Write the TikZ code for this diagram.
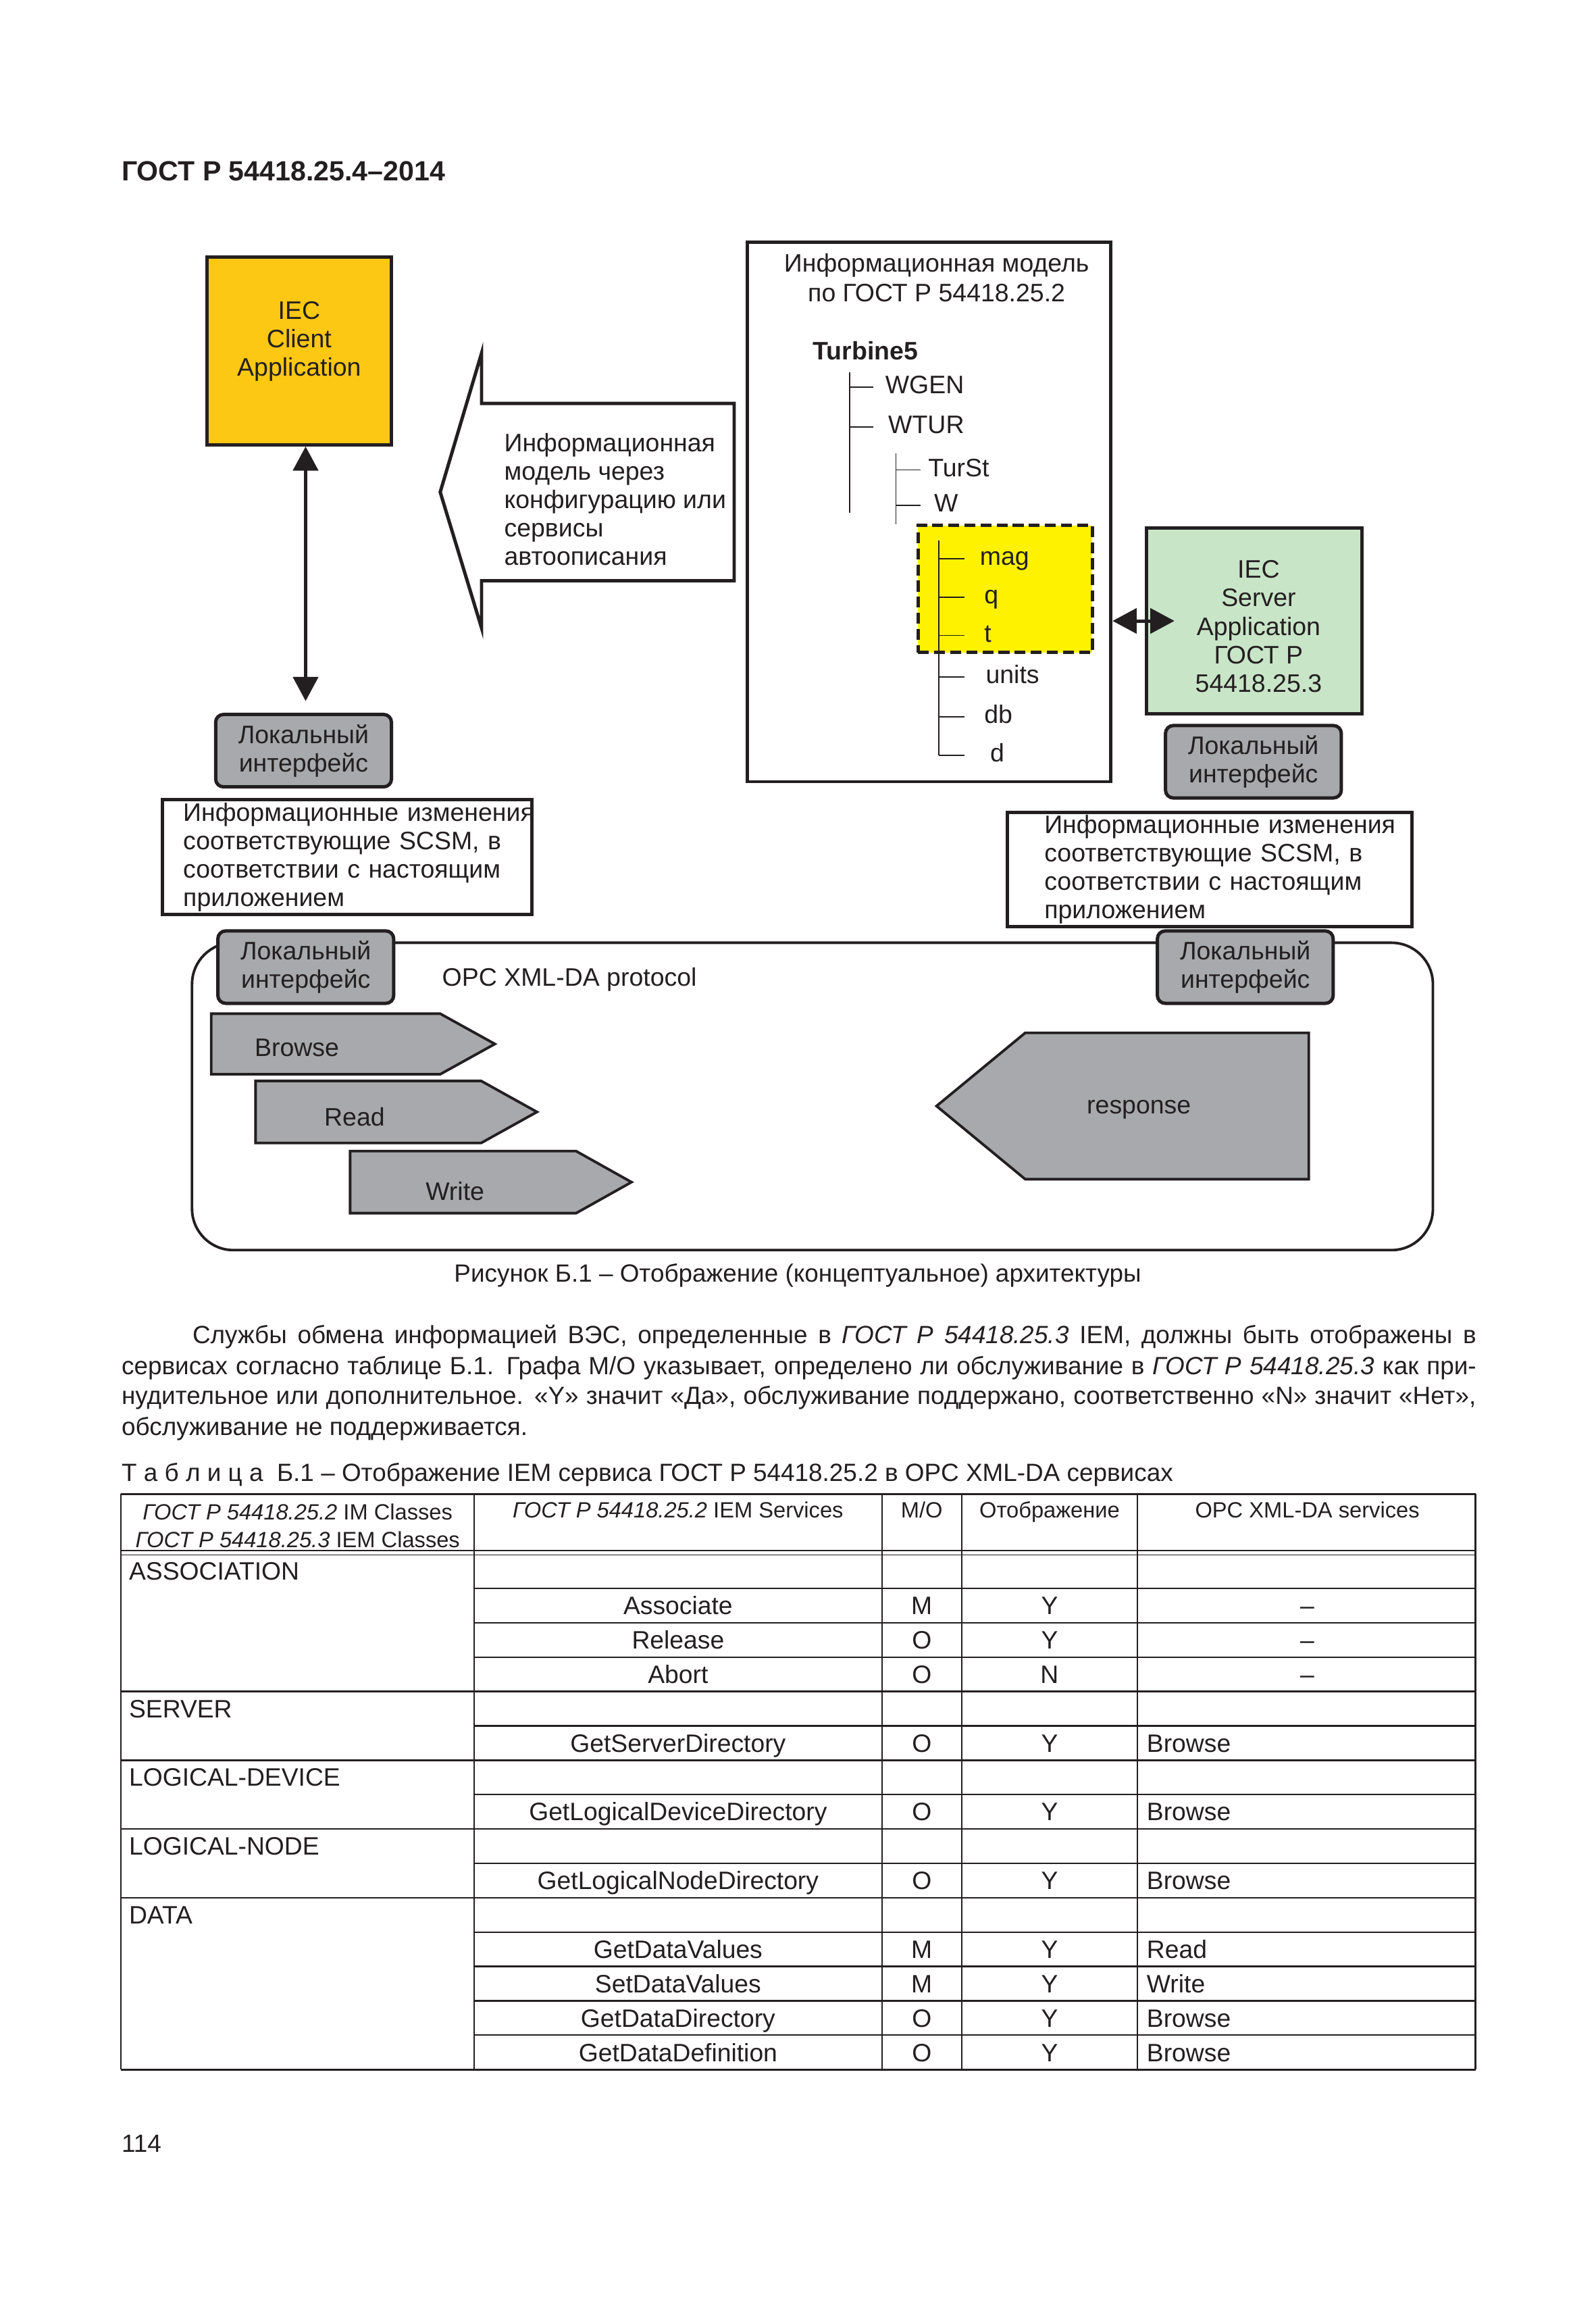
\documentclass[tikz,border=0pt]{standalone}
\usepackage{fontspec}
\setmainfont{Liberation Sans}
\usepackage{tikz}
\usetikzlibrary{arrows.meta,shapes,positioning}
\newlength\du
\setlength\du{0.02cm}
\newlength\bodyw
\setlength\bodyw{917\du}
\definecolor{ink}{HTML}{231F20}
\definecolor{clientorange}{HTML}{FDC813}
\definecolor{servergreen}{HTML}{C9E5C8}
\definecolor{markyellow}{HTML}{FFF200}
\definecolor{boxgray}{HTML}{A7A9AC}
\tikzstyle{dtext}=[inner sep=0pt, text=ink, font=\fontsize{9.75}{10.9}\selectfont]
\tikzstyle{appbox}=[draw=ink, line width=1.3pt, inner sep=0pt]
\tikzstyle{localbox}=[dtext, draw=ink, fill=boxgray, line width=1.3pt, rounded corners=3pt,
                align=center, minimum width=119\du, minimum height=49\du]
\tikzstyle{notebox}=[dtext, draw=ink, fill=white, line width=1.3pt, align=left, inner ysep=0pt]
\tikzstyle{treelbl}=[dtext, anchor=west, text height=0.72em, text depth=0.21em]
\tikzstyle{treeline}=[draw=ink, line width=0.5pt]
\tikzstyle{biarrow}=[<->, >={Triangle[length=9.3pt,width=9.6pt]}, line width=1.3pt, draw=ink]
\tikzstyle{msgshape}=[draw=ink, fill=boxgray, line width=1pt, line join=miter]
\tikzstyle{cell}=[inner sep=0pt, text=ink, font=\fontsize{9.7}{11}\selectfont,
                text height=0.72em, text depth=0.21em]
\tikzstyle{headcell}=[inner sep=0pt, text=ink, font=\fontsize{8.5}{10.8}\selectfont]
\tikzstyle{body}=[inner sep=0pt, text=ink, font=\fontsize{9.6}{11.8}\selectfont, anchor=base west]
\tikzstyle{grid}=[draw=ink, line width=0.6pt]

\begin{document}
\begin{tikzpicture}[x=0.02cm, y=-0.02cm]
    \useasboundingbox (0,0) rectangle (1080,1566);
    \node[dtext, anchor=west, font=\fontsize{10.7}{12}\selectfont\bfseries] (doctitle) at (82,116) {ГОСТ Р 54418.25.4–2014};

    % client side
    \node[appbox, fill=clientorange, minimum width=125\du, minimum height=127\du] (client) at (202.5,237.5) {};
    \node[dtext, align=center] (clienttxt) at (202.5,231) {IEC\\Client\\Application};
    \node[localbox] (loc1) at (205.5,508) {Локальный\\интерфейс};
    \draw[biarrow, shorten >=4.5pt] ([xshift=2.5pt]client.south) -- ([xshift=2.5pt]client.south |- loc1.north);
    \node[notebox, text width=222\du, inner xsep=14\du, minimum width=250\du, minimum height=78\du] (note1) at (235,580)
      {Информационные~изменения\\соответствующие~SCSM,~в\\соответствии~с~настоящим\\приложением};

    % big arrow
    \draw[draw=ink, fill=white, line width=1.3pt, line join=miter]
      (298,333) -- (326,239) -- (326,273) -- (497,273) -- (497,393) -- (326,393) -- (326,425) -- cycle;
    \node[dtext, anchor=west, align=left] (cfgtxt) at (341,338)
      {Информационная\\модель через\\конфигурацию или\\сервисы\\автоописания};

    % information model
    \node[appbox, minimum width=246\du, minimum height=365\du] (model) at (629,346.5) {};
    \node[dtext, align=center, font=\fontsize{9.75}{11.4}\selectfont] (modeltitle) at (634,188) {Информационная модель\\по ГОСТ Р 54418.25.2};
    \node[treelbl, font=\fontsize{9.75}{10.9}\selectfont\bfseries] (turbine) at (550,239) {Turbine5};
    \node[draw=ink, fill=markyellow, line width=1.3pt, dash pattern=on 4.2pt off 2pt,
          minimum width=118\du, minimum height=86\du, inner sep=0pt] (magbox) at (680.5,398.5) {};
    \coordinate (trA) at (575,252);
    \coordinate (trAend) at (575,347);
    \coordinate (trB) at (606.5,307);
    \coordinate (trBend) at (606.5,355);
    \coordinate (trC) at (635.5,366);
    \node[treelbl] (wgen) at (599,262) {WGEN};
    \node[treelbl] (wtur) at (601,289) {WTUR};
    \node[treelbl] (turst) at (628,318) {TurSt};
    \node[treelbl] (w) at (632,342) {W};
    \node[treelbl] (mag) at (663,378) {mag};
    \node[treelbl] (q) at (666,404) {q};
    \node[treelbl] (t) at (666,430) {t};
    \node[treelbl] (units) at (667,458) {units};
    \node[treelbl] (db) at (666,485) {db};
    \node[treelbl] (d) at (670,511) {d};
    \draw[treeline] (trA) -- (trAend);
    \draw[treeline] (trA |- wgen) -- ++(16,0);
    \draw[treeline] (trA |- wtur) -- ++(16,0);
    \draw[treeline] (trB) -- (trBend);
    \draw[treeline] (trB |- turst) -- ++(16.5,0);
    \draw[treeline] (trB |- w) -- ++(16.5,0);
    \draw[treeline] (trC) -- (trC |- d);
    \draw[treeline] (trC |- mag) -- ++(17.5,0);
    \draw[treeline] (trC |- q) -- ++(17.5,0);
    \draw[treeline] (trC |- t) -- ++(17.5,0);
    \draw[treeline] (trC |- units) -- ++(17.5,0);
    \draw[treeline] (trC |- db) -- ++(17.5,0);
    \draw[treeline] (trC |- d) -- ++(17.5,0);

    % server side
    \node[appbox, fill=servergreen, minimum width=146\du, minimum height=126\du] (srv) at (849,420.2) {};
    \node[dtext, align=center, font=\fontsize{9.75}{11}\selectfont] (srvtxt) at (852,424) {IEC\\Server\\Application\\ГОСТ Р\\54418.25.3};
    \draw[biarrow, shorten >=-11.5pt] (model.east |- srv.west) -- (srv.west);
    \node[localbox] (loc2) at (848.5,515.5) {Локальный\\интерфейс};
    \node[notebox, text width=224\du, inner xsep=25\du, minimum width=274\du, minimum height=77\du] (note2) at (819,588.5)
      {Информационные~изменения\\соответствующие~SCSM,~в\\соответствии~с~настоящим\\приложением};

    % protocol
    \draw[draw=ink, line width=1pt, rounded corners=28\du] (130,638) rectangle (970,846);
    \node[localbox] (loc3) at (207,654.5) {Локальный\\интерфейс};
    \node[localbox] (loc4) at (843,654.5) {Локальный\\интерфейс};
    \node[dtext, anchor=west] (opcproto) at (299,663) {OPC XML-DA protocol};
    \draw[msgshape] (143,686) -- (298,686) -- (335,706.5) -- (298,727) -- (143,727) -- cycle;
    \node[dtext] (browse) at (201,709) {Browse};
    \draw[msgshape] (173,731.5) -- (325.7,731.5) -- (363.5,752.5) -- (325.7,773.5) -- (173,773.5) -- cycle;
    \node[dtext] (read) at (240,756) {Read};
    \draw[msgshape] (237,779) -- (390,779) -- (427.5,800) -- (390,821) -- (237,821) -- cycle;
    \node[dtext] (write) at (308,806) {Write};
    \draw[msgshape] (634,748.5) -- (694,699) -- (886,699) -- (886,798) -- (694,798) -- cycle;
    \node[dtext] (response) at (771,751) {response};

    \node[dtext, font=\fontsize{9.6}{11}\selectfont] (caption) at (540,863) {Рисунок Б.1 – Отображение (концептуальное) архитектуры};

    % text
    \node[body] (para1) at (82,909.4) {\hbox to \bodyw{\hspace*{48\du}Службы обмена информацией ВЭС, определенные в \textit{ГОСТ Р 54418.25.3} IEM, должны быть отображены в}};
    \node[body] (para2) at (82,930.4) {\hbox to \bodyw{сервисах согласно таблице Б.1. Графа M/O указывает, определено ли обслуживание в \textit{ГОСТ Р 54418.25.3} как при-}};
    \node[body] (para3) at (82,950.4) {\hbox to \bodyw{нудительное или дополнительное. «Y» значит «Да», обслуживание поддержано, соответственно «N» значит «Нет»,}};
    \node[body] (para4) at (82,971.4) {обслуживание не поддерживается.};
    \node[body] (tabtitle) at (82,1002.4) {Т а б л и ц а\ \ Б.1 – Отображение IEM сервиса ГОСТ Р 54418.25.2 в OPC XML-DA сервисах};

    % table
    \draw[grid, line width=0.8pt] (82,1011) -- (999,1011);
    \draw[grid, line width=0.5pt] (82,1049.5) -- (999,1049.5);
    \draw[grid, line width=0.5pt] (82,1052.3) -- (999,1052.3);
    \draw[grid] (82,1011) -- (82,1400.6);
    \draw[grid] (321,1011) -- (321,1400.6);
    \draw[grid] (597,1011) -- (597,1400.6);
    \draw[grid] (651,1011) -- (651,1400.6);
    \draw[grid] (770,1011) -- (770,1400.6);
    \draw[grid, line width=0.8pt] (999,1011) -- (999,1400.6);
    \draw[grid] (321,1075.0) -- (999,1075.0);
    \draw[grid] (321,1098.2) -- (999,1098.2);
    \draw[grid] (321,1121.5) -- (999,1121.5);
    \draw[grid] (82,1144.7) -- (999,1144.7);
    \draw[grid] (321,1168.0) -- (999,1168.0);
    \draw[grid] (82,1191.3) -- (999,1191.3);
    \draw[grid] (321,1214.5) -- (999,1214.5);
    \draw[grid] (82,1237.8) -- (999,1237.8);
    \draw[grid] (321,1261.0) -- (999,1261.0);
    \draw[grid] (82,1284.3) -- (999,1284.3);
    \draw[grid] (321,1307.6) -- (999,1307.6);
    \draw[grid] (321,1330.8) -- (999,1330.8);
    \draw[grid] (321,1354.1) -- (999,1354.1);
    \draw[grid] (321,1377.3) -- (999,1377.3);
    \draw[grid, line width=0.8pt] (82,1400.6) -- (999,1400.6);

    \node[headcell, align=center] (hcls) at (201.5,1032.5) {\textit{ГОСТ Р 54418.25.2} IM Classes\\\textit{ГОСТ Р 54418.25.3} IEM Classes};
    \node[headcell, anchor=base] (hsvc) at (459,1027) {\textit{ГОСТ Р 54418.25.2} IEM Services};
    \node[headcell, anchor=base] (hmo) at (624,1027) {M/O};
    \node[headcell, anchor=base] (hmap) at (710.5,1027) {Отображение};
    \node[headcell, anchor=base] (hopc) at (885,1027) {OPC XML-DA services};

    \node[cell, anchor=west] (cls1) at (87,1064.8) {ASSOCIATION};
    \node[cell, anchor=west] (cls2) at (87,1157.9) {SERVER};
    \node[cell, anchor=west] (cls3) at (87,1204.4) {LOGICAL-DEVICE};
    \node[cell, anchor=west] (cls4) at (87,1250.9) {LOGICAL-NODE};
    \node[cell, anchor=west] (cls5) at (87,1297.4) {DATA};

    \node[cell] (svc1) at (459,1088.1) {Associate};
    \node[cell] (mo1) at (624,1088.1) {M};
    \node[cell] (map1) at (710.5,1088.1) {Y};
    \node[cell] (opc1) at (885,1088.1) {–};
    \node[cell] (svc2) at (459,1111.4) {Release};
    \node[cell] (mo2) at (624,1111.4) {O};
    \node[cell] (map2) at (710.5,1111.4) {Y};
    \node[cell] (opc2) at (885,1111.4) {–};
    \node[cell] (svc3) at (459,1134.6) {Abort};
    \node[cell] (mo3) at (624,1134.6) {O};
    \node[cell] (map3) at (710.5,1134.6) {N};
    \node[cell] (opc3) at (885,1134.6) {–};
    \node[cell] (svc5) at (459,1181.1) {GetServerDirectory};
    \node[cell] (mo5) at (624,1181.1) {O};
    \node[cell] (map5) at (710.5,1181.1) {Y};
    \node[cell, anchor=west] (opc5) at (776,1181.1) {Browse};
    \node[cell] (svc7) at (459,1227.7) {GetLogicalDeviceDirectory};
    \node[cell] (mo7) at (624,1227.7) {O};
    \node[cell] (map7) at (710.5,1227.7) {Y};
    \node[cell, anchor=west] (opc7) at (776,1227.7) {Browse};
    \node[cell] (svc9) at (459,1274.2) {GetLogicalNodeDirectory};
    \node[cell] (mo9) at (624,1274.2) {O};
    \node[cell] (map9) at (710.5,1274.2) {Y};
    \node[cell, anchor=west] (opc9) at (776,1274.2) {Browse};
    \node[cell] (svc11) at (459,1320.7) {GetDataValues};
    \node[cell] (mo11) at (624,1320.7) {M};
    \node[cell] (map11) at (710.5,1320.7) {Y};
    \node[cell, anchor=west] (opc11) at (776,1320.7) {Read};
    \node[cell] (svc12) at (459,1344.0) {SetDataValues};
    \node[cell] (mo12) at (624,1344.0) {M};
    \node[cell] (map12) at (710.5,1344.0) {Y};
    \node[cell, anchor=west] (opc12) at (776,1344.0) {Write};
    \node[cell] (svc13) at (459,1367.2) {GetDataDirectory};
    \node[cell] (mo13) at (624,1367.2) {O};
    \node[cell] (map13) at (710.5,1367.2) {Y};
    \node[cell, anchor=west] (opc13) at (776,1367.2) {Browse};
    \node[cell] (svc14) at (459,1390.5) {GetDataDefinition};
    \node[cell] (mo14) at (624,1390.5) {O};
    \node[cell] (map14) at (710.5,1390.5) {Y};
    \node[cell, anchor=west] (opc14) at (776,1390.5) {Browse};

    \node[body] (pagenum) at (82,1456.4) {114};
  \end{tikzpicture}
\end{document}
